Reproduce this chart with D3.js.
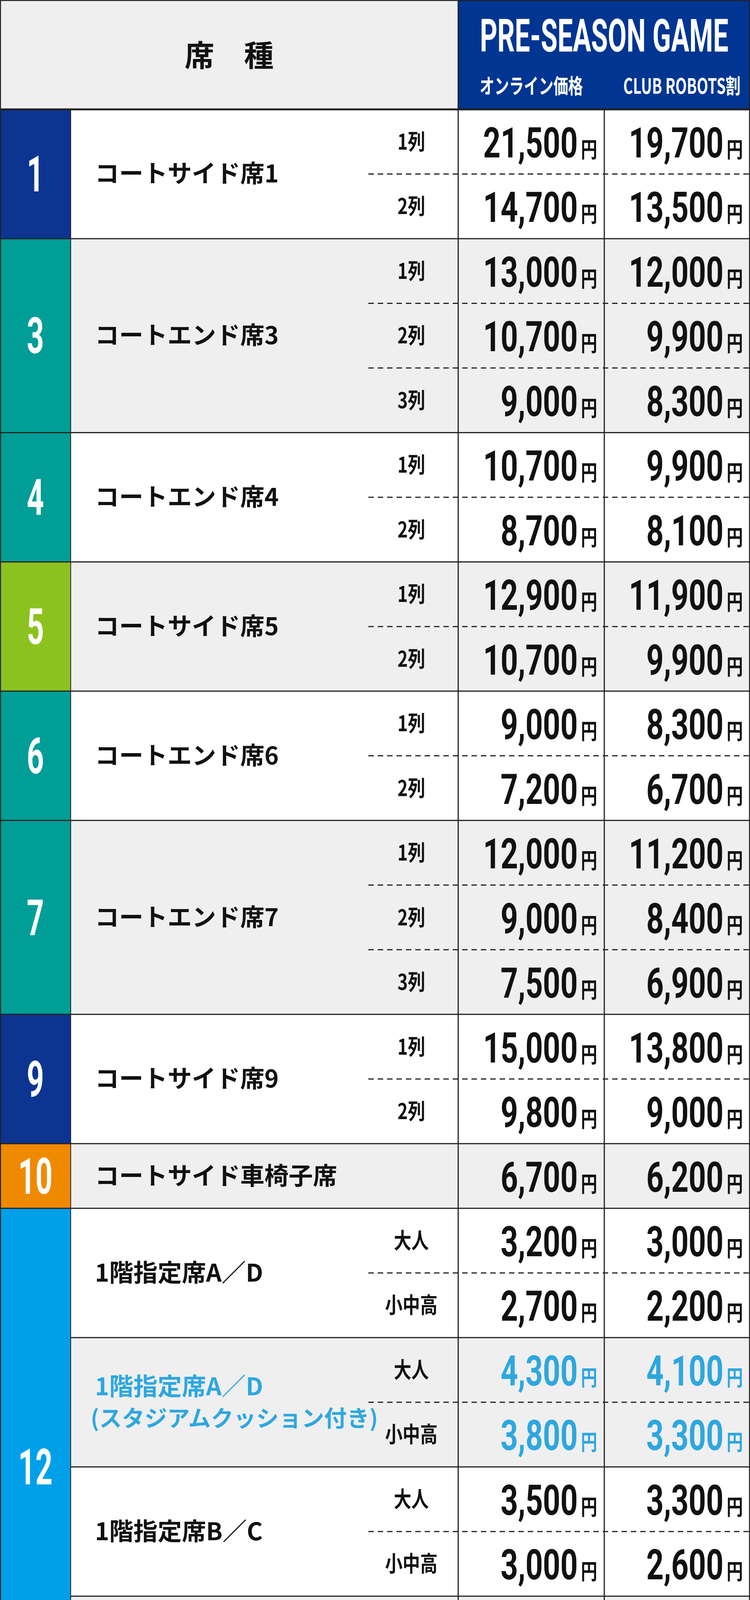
<!DOCTYPE html>
<html><head><meta charset="utf-8">
<script src="https://cdn.jsdelivr.net/npm/d3@7"></script>
<style>body{margin:0;background:#fff}svg{display:block}</style>
</head><body>
<script>
const groupNums   = ["1","3","4","5","6","7","9","10","12","14","15","16","17"];
const groupColors = ["#0b3590","#009e96","#009e96","#8cc21f","#009e96","#009e96","#0b3590","#ef8a00","#00a0e9","#2b6db5","#84a9dc","#8c4b9b","#ef8a00"];
const groupRows   = [2,3,2,2,2,3,2,1,8,2,2,2,2];
const blockGroup  = [0,1,2,3,4,5,6,7,8,8,8,8,9,10,11,12];
const blockNames  = [["コートサイド席1"],["コートエンド席3"],["コートエンド席4"],["コートサイド席5"],["コートエンド席6"],["コートエンド席7"],["コートサイド席9"],["コートサイド車椅子席"],
  ["1階指定席A／D"],["1階指定席A／D","(スタジアムクッション付き)"],["1階指定席B／C"],["1階指定席B／C","(スタジアムクッション付き)"],
  ["2階指定席N／S","［センター］"],["2階指定席N／S","［サイド］"],["2階指定席W／E"],["2階車椅子席"]];
const blockSubs   = [["1列","2列"],["1列","2列","3列"],["1列","2列"],["1列","2列"],["1列","2列"],["1列","2列","3列"],["1列","2列"],[""],
  ["大人","小中高"],["大人","小中高"],["大人","小中高"],["大人","小中高"],["大人","小中高"],["大人","小中高"],["大人","小中高"],["大人","小中高"]];
const onlinePrices= [[21500,14700],[13000,10700,9000],[10700,8700],[12900,10700],[9000,7200],[12000,9000,7500],[15000,9800],[6700],
  [3200,2700],[4300,3800],[3500,3000],[4600,4100],[3000,2100],[500,500],[500,500],[2000,1300]];
const clubPrices  = [[19700,13500],[12000,9900,8300],[9900,8100],[11900,9900],[8300,6700],[11200,8400,6900],[13800,9000],[6200],
  [3000,2200],[4100,3300],[3300,2600],[4400,3700],[2800,2000],[500,500],[500,500],[1900,1200]];
const blockTone   = ["k","k","k","k","k","k","k","k","k","b","k","b","k","r","r","k"];
const headerTitle = "PRE-SEASON GAME";
const headerCols  = ["オンライン価格","CLUB ROBOTS割"];

const W=1920,H=5743,HEAD=280;
const X0=181,X1=1173,X2=1547,DASH0=943;
const toneColor={k:"#111",b:"#2ea7df",r:"#e60012"};
const svg=d3.select("body").append("svg").attr("width",W).attr("height",H);
const nRows=d3.sum(groupRows);
const y=d3.scaleBand().domain(d3.range(nRows)).range([HEAD,H-2]).padding(0);
const JP="'Noto Sans CJK JP','Noto Sans',sans-serif";

// header
svg.append("rect").attr("x",0).attr("y",0).attr("width",X1).attr("height",HEAD).attr("fill","#efefef");
svg.append("rect").attr("x",X1).attr("y",0).attr("width",W-X1).attr("height",HEAD).attr("fill","#003592");
svg.append("text").attr("x",X1/2).attr("y",170).attr("text-anchor","middle").attr("font-family",JP).attr("font-weight",700).attr("font-size",76).attr("fill","#111").text("席　種");
svg.append("text").attr("transform",`translate(${(X1+W)/2},132) scale(0.6,1)`).attr("text-anchor","middle").attr("font-family","Roboto,sans-serif").attr("font-weight",700).attr("font-size",116).attr("fill","#fff").text(headerTitle);
headerCols.forEach((t,i)=>{
  const cx=i===0?(X1+X2)/2:(X2+W)/2+12;
  svg.append("text").attr("transform",`translate(${cx},240) scale(0.7,1)`).attr("text-anchor","middle").attr("font-family",JP).attr("font-weight",700).attr("font-size",54).attr("fill","#fff").text(t);
});

// groups
let r=0;
groupRows.forEach((n,g)=>{
  const y0=y(r),h=y.bandwidth()*n;
  svg.append("rect").attr("x",0).attr("y",y0).attr("width",X0).attr("height",h).attr("fill",groupColors[g]);
  svg.append("text").attr("transform",`translate(${X0/2},${y0+h/2+45}) scale(0.6,1)`).attr("text-anchor","middle").attr("font-family","Roboto,sans-serif").attr("font-weight",700).attr("font-size",128).attr("fill","#fff").text(groupNums[g]);
  r+=n;});

// blocks
let br=0, sub12=0;
blockNames.forEach((names,b)=>{
  const g=blockGroup[b];const subs=blockSubs[b];const n=subs.length;
  const y0=y(br),h=y.bandwidth()*n;
  let gray;
  if(g===8){gray=(sub12++)%2===1;} else {gray=g<8 ? g%2===1 : (g-9)%2===1;}
  svg.append("rect").attr("x",X0).attr("y",y0).attr("width",W-X0).attr("height",h).attr("fill",gray?"#efefef":"#fff");
  const tc=toneColor[blockTone[b]];
  const lh=80, top=y0+h/2-(names.length-1)*lh/2+22;
  names.forEach((t,i)=>{
    const paren=t.startsWith("(");
    svg.append("text").attr("x",paren?232:243).attr("y",top+i*lh).attr("font-family",JP).attr("font-weight",700).attr("font-size",paren?58:62).attr("fill",tc).text(t);
  });
  subs.forEach((s,i)=>{
    const ry=y(br+i),rh=y.bandwidth(),cy=ry+rh/2;
    if(s) svg.append("text").attr("transform",`translate(1053,${cy+20}) scale(0.8,1)`).attr("text-anchor","middle").attr("font-family",JP).attr("font-weight",700).attr("font-size",56).attr("fill","#111").text(s);
    [[onlinePrices[b][i],X2],[clubPrices[b][i],W]].forEach(([v,xr])=>{
      svg.append("text").attr("transform",`translate(${xr-68},${cy+40}) scale(0.72,1)`).attr("text-anchor","end").attr("font-family","Roboto,sans-serif").attr("font-weight",700).attr("font-size",108).attr("fill",tc).text(d3.format(",")(v));
      svg.append("text").attr("transform",`translate(${xr-18},${cy+40}) scale(0.75,1)`).attr("text-anchor","end").attr("font-family",JP).attr("font-weight",700).attr("font-size",56).attr("fill",tc).text("円");
    });
    if(i>0) svg.append("line").attr("x1",DASH0).attr("x2",W).attr("y1",ry).attr("y2",ry).attr("stroke","#222").attr("stroke-width",3).attr("stroke-dasharray","14,10");
  });
  br+=n;
});

// solid borders
svg.append("line").attr("x1",0).attr("x2",W).attr("y1",HEAD).attr("y2",HEAD).attr("stroke","#222").attr("stroke-width",5);
let acc=0;const blockStarts=[];
blockSubs.forEach(s=>{blockStarts.push(acc);acc+=s.length;});
blockStarts.forEach((s,b)=>{ if(b===0) return;
  const x0=(blockGroup[b]===blockGroup[b-1])?X0:0;
  svg.append("line").attr("x1",x0).attr("x2",W).attr("y1",y(s)).attr("y2",y(s)).attr("stroke","#222").attr("stroke-width",3);
});
[X1,X2].forEach(x=>svg.append("line").attr("x1",x).attr("x2",x).attr("y1",x===X2?HEAD:0).attr("y2",H).attr("stroke","#222").attr("stroke-width",3));
svg.append("line").attr("x1",X0).attr("x2",X0).attr("y1",HEAD).attr("y2",H).attr("stroke","#222").attr("stroke-width",2);
svg.append("rect").attr("x",1).attr("y",1).attr("width",W-2).attr("height",H-2).attr("fill","none").attr("stroke","#222").attr("stroke-width",3);
</script>
</body></html>
